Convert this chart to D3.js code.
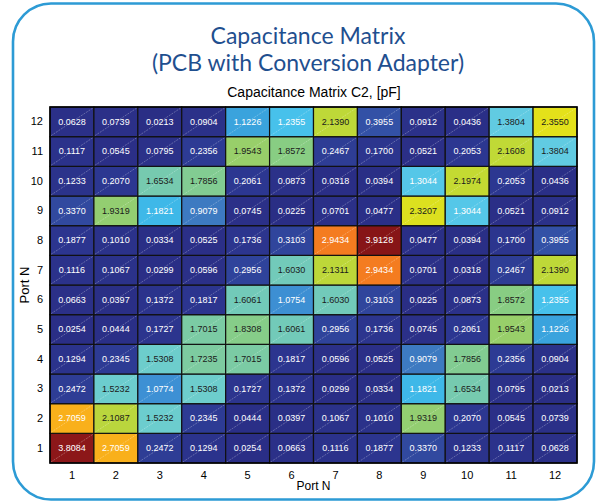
<!DOCTYPE html>
<html>
<head>
    <title>Capacitance Matrix</title>
    <script src="https://cdnjs.cloudflare.com/ajax/libs/d3/7.8.5/d3.min.js"></script>
    <style>
        body { margin: 0; background: #fff; }
        .cell-text { font-family: 'Liberation Sans', Arial, sans-serif; font-size: 9px; }
        .tick text { font-family: 'Liberation Sans', Arial, sans-serif; font-size: 11px; fill: #000; }
    </style>
</head>
<body>
    <div id="chart"></div>
    <script>
//------------------------------------DATA--------------------------
        var ports = [1, 2, 3, 4, 5, 6, 7, 8, 9, 10, 11, 12];

        // rows are Port N (1..12), columns Port N (1..12), values in pF
        var row1  = [3.8084, 2.7059, 0.2472, 0.1294, 0.0254, 0.0663, 0.1116, 0.1877, 0.3370, 0.1233, 0.1117, 0.0628];
        var row2  = [2.7059, 2.1087, 1.5232, 0.2345, 0.0444, 0.0397, 0.1067, 0.1010, 1.9319, 0.2070, 0.0545, 0.0739];
        var row3  = [0.2472, 1.5232, 1.0774, 1.5308, 0.1727, 0.1372, 0.0299, 0.0334, 1.1821, 1.6534, 0.0795, 0.0213];
        var row4  = [0.1294, 0.2345, 1.5308, 1.7235, 1.7015, 0.1817, 0.0596, 0.0525, 0.9079, 1.7856, 0.2356, 0.0904];
        var row5  = [0.0254, 0.0444, 0.1727, 1.7015, 1.8308, 1.6061, 0.2956, 0.1736, 0.0745, 0.2061, 1.9543, 1.1226];
        var row6  = [0.0663, 0.0397, 0.1372, 0.1817, 1.6061, 1.0754, 1.6030, 0.3103, 0.0225, 0.0873, 1.8572, 1.2355];
        var row7  = [0.1116, 0.1067, 0.0299, 0.0596, 0.2956, 1.6030, 2.1311, 2.9434, 0.0701, 0.0318, 0.2467, 2.1390];
        var row8  = [0.1877, 0.1010, 0.0334, 0.0525, 0.1736, 0.3103, 2.9434, 3.9128, 0.0477, 0.0394, 0.1700, 0.3955];
        var row9  = [0.3370, 1.9319, 1.1821, 0.9079, 0.0745, 0.0225, 0.0701, 0.0477, 2.3207, 1.3044, 0.0521, 0.0912];
        var row10 = [0.1233, 0.2070, 1.6534, 1.7856, 0.2061, 0.0873, 0.0318, 0.0394, 1.3044, 2.1974, 0.2053, 0.0436];
        var row11 = [0.1117, 0.0545, 0.0795, 0.2356, 1.9543, 1.8572, 0.2467, 0.1700, 0.0521, 0.2053, 2.1608, 1.3804];
        var row12 = [0.0628, 0.0739, 0.0213, 0.0904, 1.1226, 1.2355, 2.1390, 0.3955, 0.0912, 0.0436, 1.3804, 2.3550];

        var rows = [row1, row2, row3, row4, row5, row6, row7, row8, row9, row10, row11, row12];

        // flatten into cells for d3
        var cells = [];
        rows.forEach(function (r, i) {
            r.forEach(function (v, j) {
                cells.push({ row: ports[i], col: ports[j], value: v });
            });
        });
//------------------------------------FINISHED----------------------

//------------------------------------MAKES THE BOX--------------------------
        var W = 598, H = 504;
        var margin = { top: 107, right: 21, bottom: 41, left: 50 },
            width = W - margin.left - margin.right,
            height = H - margin.top - margin.bottom;

        var svg = d3.select("#chart").append("svg")
            .attr("width", W)
            .attr("height", H);

        // rounded frame
        svg.append("rect")
            .attr("x", 13).attr("y", 3.5)
            .attr("width", 581).attr("height", 496)
            .attr("rx", 38).attr("ry", 38)
            .attr("fill", "none")
            .attr("stroke", "#2d9bd5")
            .attr("stroke-width", 2.6);

        // titles
        svg.append("text")
            .attr("x", 308).attr("y", 44)
            .attr("text-anchor", "middle")
            .style("font-family", "Lato, 'Open Sans', sans-serif")
            .style("font-size", "23px")
            .style("fill", "#1f4f8f")
            .text("Capacitance Matrix");
        svg.append("text")
            .attr("x", 308).attr("y", 71)
            .attr("text-anchor", "middle")
            .style("font-family", "Lato, 'Open Sans', sans-serif")
            .style("font-size", "23px")
            .style("fill", "#1f4f8f")
            .text("(PCB with Conversion Adapter)");
        svg.append("text")
            .attr("x", 314).attr("y", 97)
            .attr("text-anchor", "middle")
            .style("font-family", "'Liberation Sans', Arial, sans-serif")
            .style("font-size", "14px")
            .text("Capacitance Matrix C2, [pF]");

        var g = svg.append("g")
            .attr("transform", "translate(" + margin.left + "," + margin.top + ")");
//------------------------------------FINISHED----------------------------------------

//------------------------------------SCALES--------------------------------
        var x = d3.scaleBand().domain(ports).range([0, width]);
        var y = d3.scaleBand().domain(ports.slice().reverse()).range([0, height]);

        var color = d3.scaleLinear()
            .domain([0, 0.2, 0.4, 0.9, 1.08, 1.13, 1.2, 1.35, 1.52, 1.62, 1.75, 1.9, 2.12, 2.25, 2.35, 2.7, 2.95, 3.8, 3.95])
            .range(["#2a2d84", "#2c3690", "#3352a6", "#3d79c0", "#3d90d4", "#3aa6de", "#3fbeec", "#5fcbe6",
                    "#6ccdcf", "#73c9b6", "#7fcc9a", "#8ccd7a", "#bcd73a", "#cadc2c", "#e4e21a",
                    "#f9b11b", "#f47b20", "#8c1719", "#861416"])
            .clamp(true);

        function textColor(v) {
            if (v >= 1.35 && v <= 2.5) { return "#1a1a1a"; }
            return "#ffffff";
        }
//----------------------------------FINISHED--------------------------------------

//------------------------------------MAKES THE CELLS--------------------------------
        var cg = g.selectAll(".cell")
            .data(cells)
            .enter()
            .append("g")
            .attr("class", "cell")
            .attr("transform", function (d) {
                return "translate(" + x(d.col) + "," + y(d.row) + ")";
            });

        cg.append("rect")
            .attr("width", x.bandwidth())
            .attr("height", y.bandwidth())
            .attr("fill", function (d) { return color(d.value); })
            .attr("stroke", "#111")
            .attr("stroke-width", 1.2);

        // faint diagonal in each cell
        cg.append("line")
            .attr("x1", 1).attr("y1", y.bandwidth() - 1)
            .attr("x2", x.bandwidth() - 1).attr("y2", 1)
            .attr("stroke", "rgba(255,255,255,0.45)")
            .attr("stroke-width", 0.6)
            .attr("stroke-dasharray", "2,1");

        cg.append("text")
            .attr("class", "cell-text")
            .attr("x", x.bandwidth() / 2)
            .attr("y", y.bandwidth() / 2 + 3)
            .attr("text-anchor", "middle")
            .style("fill", function (d) { return textColor(d.value); })
            .text(function (d) { return d.value.toFixed(4); });

        // outer frame of the grid
        g.append("rect")
            .attr("width", width).attr("height", height)
            .attr("fill", "none")
            .attr("stroke", "#000")
            .attr("stroke-width", 1.5);
//----------------------------------FINISHED--------------------------------------

//------------------------------------AXES--------------------------------
        g.append("g")
            .attr("transform", "translate(0," + height + ")")
            .call(d3.axisBottom(x).tickSize(0).tickPadding(8))
            .call(function (a) { a.select(".domain").remove(); });

        g.append("g")
            .call(d3.axisLeft(y).tickSize(0).tickPadding(7))
            .call(function (a) { a.select(".domain").remove(); });

        svg.append("text")
            .attr("x", margin.left + width / 2).attr("y", 490)
            .attr("text-anchor", "middle")
            .style("font-family", "'Liberation Sans', Arial, sans-serif")
            .style("font-size", "12px")
            .text("Port N");

        svg.append("text")
            .attr("transform", "translate(29," + (margin.top + height / 2) + ") rotate(-90)")
            .attr("text-anchor", "middle")
            .style("font-family", "'Liberation Sans', Arial, sans-serif")
            .style("font-size", "13px")
            .text("Port N");
//----------------------------------FINISHED--------------------------------------
    </script>
</body>
</html>
